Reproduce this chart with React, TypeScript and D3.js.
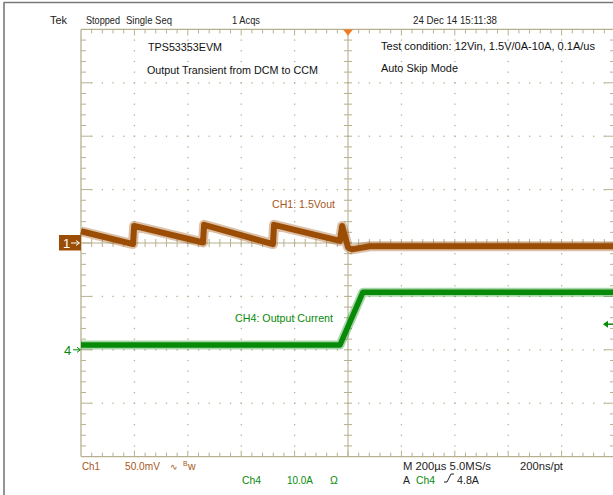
import React from "react";
import * as d3 from "d3";

// ---- data ----
const ch1Time = [-1000, -805, -801, -543, -539, -281, -277, -30, -22, 0, 15, 82, 1000]; // µs
const ch1mV = [11, -1, 16, 0.5, 17, -1, 17, 2, 16, -4, -6, -3, -3]; // mV rel. to marker
const ch4Time = [-1000, -30, 56, 1000]; // µs
const ch4Amp = [0.9, 0.9, 10.8, 10.8]; // A rel. to marker
const triggerLevelA = 4.8;

const topTexts = [
  { t: "Tek", x: 50, w: 17 },
  { t: "Stopped", x: 86, w: 34 },
  { t: "Single Seq", x: 126, w: 46 },
  { t: "1 Acqs", x: 232, w: 28 },
  { t: "24 Dec 14 15:11:38", x: 413, w: 84 },
];

const W = 613, H = 495;
const L = 81, R = 615, T = 29.4, B = 456.6;
const DIV = 53.4;
const BROWN = "#9b4c05";
const BROWN_TXT = "#a8581a";
const GREEN = "#078a07";
const GRID = "#b7b08f";
const FONT = "'Liberation Sans', Arial, sans-serif";

function Txt(props: { x: number; y: number; w?: number; fill?: string; size?: number; children: React.ReactNode }) {
  const { x, y, w, fill = "#111", size = 10.5, children } = props;
  return (
    <text
      x={x}
      y={y}
      fill={fill}
      fontSize={size}
      {...(w ? { textLength: w, lengthAdjust: "spacingAndGlyphs" } : {})}
    >
      {children}
    </text>
  );
}

export default function App() {
  const x = d3.scaleLinear().domain([-1000, 1000]).range([L, R]);
  const y1 = d3.scaleLinear().domain([-200, 200]).range([B, T]);
  const y4 = d3.scaleLinear().domain([-20, 60]).range([B, T]);

  const line1 = d3.line<number>().x((_, i) => x(ch1Time[i])).y((d) => y1(d));
  const line4 = d3.line<number>().x((_, i) => x(ch4Time[i])).y((d) => y4(d));

  const cx = x(0), cy = y1(0);
  const minor = DIV / 5;

  const elems: React.ReactNode[] = [];
  for (let i = 1; i < 10; i++) {
    if (i === 5) continue;
    const gx = L + i * DIV;
    for (let j = 1; j < 40; j++) {
      const gy = T + j * minor;
      elems.push(<rect key={`vd${i}-${j}`} x={gx - 0.6} y={gy - 0.6} width={1.3} height={1.3} fill={GRID} />);
    }
  }
  for (let i = 1; i < 8; i++) {
    if (i === 4) continue;
    const gy = T + i * DIV;
    for (let j = 1; j < 50; j++) {
      const gx = L + j * minor;
      elems.push(<rect key={`hd${i}-${j}`} x={gx - 0.6} y={gy - 0.6} width={1.3} height={1.3} fill={GRID} />);
    }
  }
  for (let j = 1; j < 50; j++) {
    const gx = L + j * minor;
    const major = j % 5 === 0;
    const len = major ? 6 : 4;
    elems.push(<line key={`tt${j}`} x1={gx} x2={gx} y1={T} y2={T + len} stroke={GRID} strokeWidth={1} />);
    elems.push(<line key={`bt${j}`} x1={gx} x2={gx} y1={B} y2={B - len} stroke={GRID} strokeWidth={1} />);
    elems.push(<line key={`ct${j}`} x1={gx} x2={gx} y1={cy - 4} y2={cy + 4} stroke={GRID} strokeWidth={1} />);
  }
  for (let j = 1; j < 40; j++) {
    const gy = T + j * minor;
    const major = j % 5 === 0;
    const len = major ? 11 : 5;
    elems.push(<line key={`lt${j}`} x1={L} x2={L + len} y1={gy} y2={gy} stroke={GRID} strokeWidth={1} />);
    elems.push(<line key={`rt${j}`} x1={R} x2={R - len} y1={gy} y2={gy} stroke={GRID} strokeWidth={1} />);
    elems.push(<line key={`cvt${j}`} x1={cx - 4} x2={cx + 4} y1={gy} y2={gy} stroke={GRID} strokeWidth={1} />);
  }

  const trigY = y4(triggerLevelA);
  const ch4Zero = y4(0);

  return (
    <svg width={W} height={H} style={{ position: "absolute", left: 0, top: 0, background: "#fff" }} fontFamily={FONT}>
      <rect x={0} y={0} width={W} height={H} fill="#fff" />
      <line x1={4} x2={W} y1={2.5} y2={2.5} stroke="#7a7a7a" strokeWidth={1.6} />
      <line x1={4} x2={4} y1={2} y2={H} stroke="#7a7a7a" strokeWidth={1.6} />

      {topTexts.map((d) => (
        <Txt key={d.t} x={d.x} y={24} w={d.w} size={11} fill="#222">{d.t}</Txt>
      ))}

      <g>{elems}</g>
      <line x1={L} x2={L} y1={T} y2={B} stroke={GRID} strokeWidth={1.3} />
      <line x1={L} x2={R} y1={T} y2={T} stroke={GRID} strokeWidth={1.3} />
      <line x1={L} x2={R} y1={B} y2={B} stroke={GRID} strokeWidth={1.3} />
      <line x1={R} x2={R} y1={T} y2={B} stroke={GRID} strokeWidth={1.3} />
      <line x1={cx} x2={cx} y1={T} y2={B} stroke={GRID} strokeWidth={1.1} />
      <line x1={L} x2={R} y1={cy} y2={cy} stroke={GRID} strokeWidth={1.1} />

      <path d={`M${cx - 5},${T} L${cx + 5},${T} L${cx},${T + 6} Z`} fill="#f47a20" />

      <Txt x={148} y={51} w={74}>TPS53353EVM</Txt>
      <Txt x={147} y={74} w={171}>Output Transient from DCM to CCM</Txt>
      <Txt x={381} y={50} w={214}>Test condition: 12Vin, 1.5V/0A-10A, 0.1A/us</Txt>
      <Txt x={381} y={72} w={77}>Auto Skip Mode</Txt>
      <Txt x={272} y={208} w={63} fill={BROWN_TXT}>CH1: 1.5Vout</Txt>
      <Txt x={235} y={322} w={98} fill={GREEN}>CH4: Output Current</Txt>

      <path d={line1(ch1mV) || ""} fill="none" stroke={BROWN} strokeOpacity={0.35} strokeWidth={10} strokeLinejoin="round" />
      <path d={line1(ch1mV) || ""} fill="none" stroke={BROWN} strokeWidth={6} strokeLinejoin="round" />
      <path d={line4(ch4Amp) || ""} fill="none" stroke={GREEN} strokeOpacity={0.35} strokeWidth={9} strokeLinejoin="round" />
      <path d={line4(ch4Amp) || ""} fill="none" stroke={GREEN} strokeWidth={5.5} strokeLinejoin="round" />

      <rect x={59} y={cy - 8} width={L - 59} height={15.5} fill={BROWN} />
      <text x={63} y={cy + 5} fontSize={13} fill="#fff">1</text>
      <path d={`M${71},${cy} L${79},${cy} M${76},${cy - 2.5} L${79.5},${cy} L${76},${cy + 2.5}`} stroke="#fff" strokeWidth={1} fill="none" />

      <text x={64} y={ch4Zero + 5} fontSize={13} fill={GREEN}>4</text>
      <path d={`M${73},${ch4Zero} L${80},${ch4Zero} M${77},${ch4Zero - 2.5} L${80.5},${ch4Zero} L${77},${ch4Zero + 2.5}`} stroke={GREEN} strokeWidth={1} fill="none" />

      <path d={`M${604},${trigY} L${613},${trigY}`} stroke={GREEN} strokeWidth={1.5} />
      <path d={`M${603},${trigY} L${608},${trigY - 3.5} L${608},${trigY + 3.5} Z`} fill={GREEN} />

      <Txt x={82} y={470} w={18} fill={BROWN_TXT}>Ch1</Txt>
      <Txt x={125} y={470} w={35} fill={BROWN_TXT}>50.0mV</Txt>
      <Txt x={170} y={470} size={9} fill={BROWN_TXT}>∿</Txt>
      <Txt x={183} y={466} size={7} fill={BROWN_TXT}>B</Txt>
      <Txt x={188} y={470} fill={BROWN_TXT}>w</Txt>
      <Txt x={242} y={484} w={19} fill={GREEN}>Ch4</Txt>
      <Txt x={287} y={484} w={26} fill={GREEN}>10.0A</Txt>
      <Txt x={330} y={484} fill={GREEN}>Ω</Txt>
      <Txt x={403} y={470} w={88} fill="#222">M 200µs 5.0MS/s</Txt>
      <Txt x={520} y={470} w={43} fill="#222">200ns/pt</Txt>
      <Txt x={403} y={484} fill="#222">A</Txt>
      <Txt x={416} y={484} w={19} fill={GREEN}>Ch4</Txt>
      <path d="M444,482 L447,482 L451,474 L454,474" stroke="#222" strokeWidth={1} fill="none" />
      <Txt x={457} y={484} w={22} fill="#222">4.8A</Txt>
    </svg>
  );
}
